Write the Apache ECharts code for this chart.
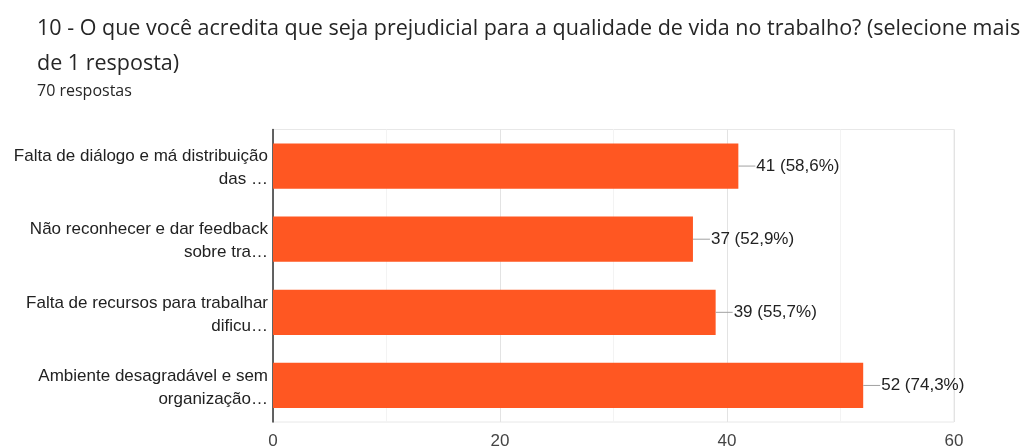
<!DOCTYPE html>
<html>
<head>
<meta charset="utf-8">
<script src="https://cdn.jsdelivr.net/npm/echarts@6/dist/echarts.min.js"></script>
<style>
html,body{margin:0;padding:0;background:#fff;}
#c{width:1029px;height:447px;}
</style>
</head>
<body>
<div id="c"></div>
<script>
const titleLines = ["10 - O que você acredita que seja prejudicial para a qualidade de vida no trabalho? (selecione mais", "de 1 resposta)"];
const subtitle = "70 respostas";
const categories = [
  "Falta de diálogo e má distribuição\ndas …",
  "Não reconhecer e dar feedback\nsobre tra…",
  "Falta de recursos para trabalhar\ndificu…",
  "Ambiente desagradável e sem\norganização…"
];
const counts = [41, 37, 39, 52];
const percents = [58.6, 52.9, 55.7, 74.3];
const xTicks = [0, 20, 40, 60];

const chart = echarts.init(document.getElementById('c'));
chart.setOption({
  animation: false,
  textStyle: {fontFamily: 'Arial, "Liberation Sans", sans-serif'},
  graphic: [
    {type: 'text', left: 37, top: 18, style: {text: titleLines[0], font: '21.5px "Open Sans", sans-serif', fill: '#262626'}},
    {type: 'text', left: 37, top: 53, style: {text: titleLines[1], font: '21.5px "Open Sans", sans-serif', fill: '#262626'}},
    {type: 'text', left: 37, top: 83, style: {text: subtitle, font: '16px "Open Sans", sans-serif', fill: '#262626'}}
  ],
  grid: {left: 273, right: 75, top: 129.5, bottom: 25, show: true, borderColor: '#e8e8e8', borderWidth: 1, outerBoundsMode: 'none', containLabel: false},
  xAxis: {
    type: 'value', min: xTicks[0], max: xTicks[xTicks.length - 1], interval: 20,
    axisLine: {show: false}, axisTick: {show: false},
    axisLabel: {fontSize: 17, color: '#444', margin: 11},
    splitLine: {lineStyle: {color: '#e3e3e3'}},
    minorTick: {show: false, splitNumber: 2},
    minorSplitLine: {show: true, lineStyle: {color: '#f3f3f3'}}
  },
  yAxis: {
    type: 'category', inverse: true, data: categories,
    axisLine: {show: true, lineStyle: {color: '#333', width: 1.5}},
    axisTick: {show: false},
    axisLabel: {
      margin: 5, align: 'right',
      formatter: v => '{s| }\n' + v.split('\n').map(t => '{a|' + t + '}').join('\n'),
      rich: {
        s: {fontSize: 1, lineHeight: 4, align: 'right'},
        a: {fontSize: 17, color: '#222', lineHeight: 23, align: 'right'}
      }
    }
  },
  series: [{
    type: 'bar', data: counts, barWidth: '62%',
    itemStyle: {color: '#ff5722'},
    label: {
      show: true, position: 'right', distance: 0,
      formatter: p => '{l|}{t|' + counts[p.dataIndex] + ' (' + percents[p.dataIndex].toFixed(1).replace('.', ',') + '%)}',
      rich: {
        l: {width: 17, height: 1, backgroundColor: '#a0a0a0'},
        t: {fontSize: 17, color: '#222', padding: [0, 0, 0, 1]}
      }
    }
  }]
});
</script>
</body>
</html>
